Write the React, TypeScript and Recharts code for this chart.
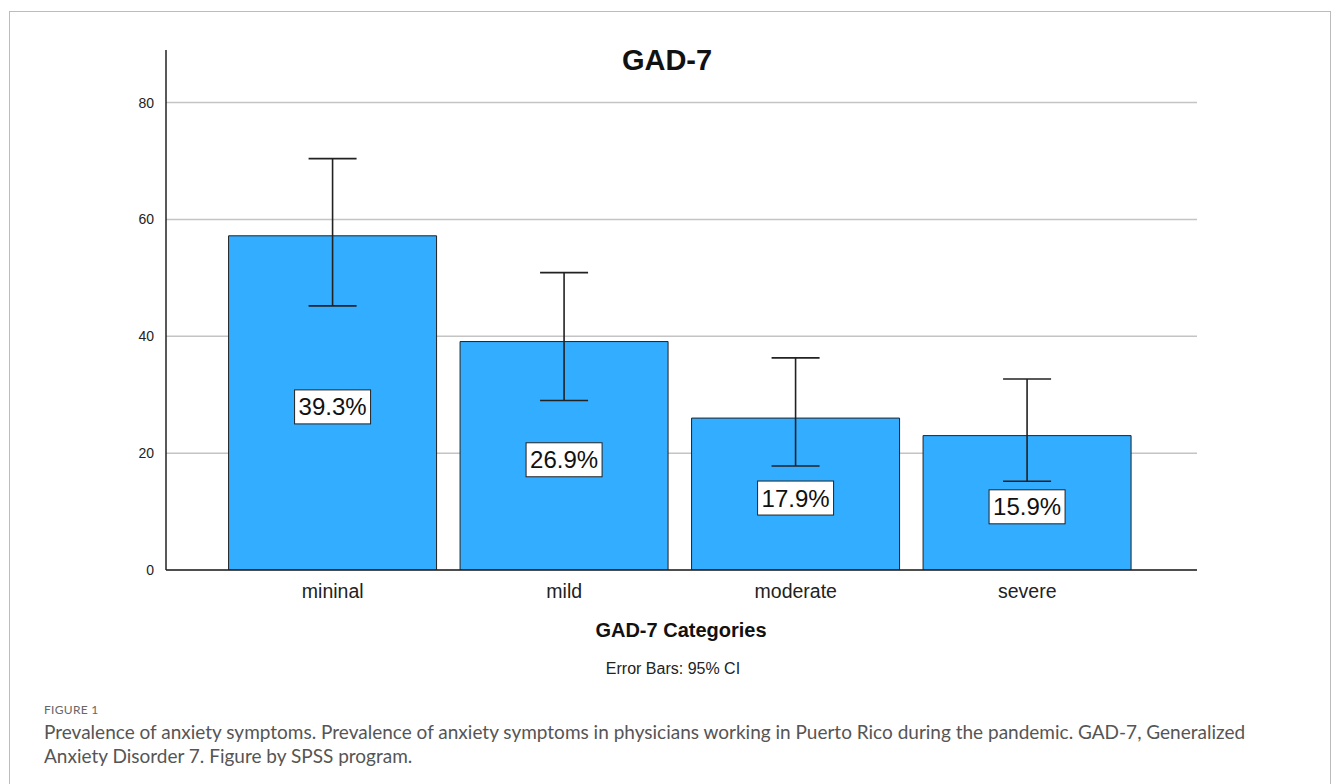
import { BarChart, Bar, XAxis, YAxis, CartesianGrid, ErrorBar, LabelList } from 'recharts';

const categories = ['mininal', 'mild', 'moderate', 'severe'];
const counts = [57.2, 39.1, 26.0, 23.0];
const ciLow = [45.2, 29.0, 17.8, 15.2];
const ciHigh = [70.4, 50.9, 36.3, 32.7];
const percentLabels = ['39.3%', '26.9%', '17.9%', '15.9%'];
const yTicks = [0, 20, 40, 60, 80];

const data = categories.map((name, i) => ({
  name,
  count: counts[i],
  ci: [counts[i] - ciLow[i], ciHigh[i] - counts[i]],
  pct: percentLabels[i],
}));

const PercentBox = (props: any) => {
  const { x, y, width, height, value } = props;
  const cx = x + width / 2;
  const cy = y + height / 2 + 4;
  const w = 76;
  const h = 34;
  return (
    <g>
      <rect x={cx - w / 2} y={cy - h / 2} width={w} height={h} fill="#fff" stroke="#222" strokeWidth={1} />
      <text x={cx} y={cy} textAnchor="middle" dominantBaseline="central" fontSize={24} fill="#111"
        fontFamily="'Liberation Sans', Arial, sans-serif">
        {value}
      </text>
    </g>
  );
};

const App = () => {
  return (
    <div style={{ position: 'absolute', left: 0, top: 0, width: 1333, height: 784, background: '#fff', overflow: 'hidden' }}>
      <div style={{ position: 'absolute', left: 9, top: 11, width: 1322, height: 800, border: '1.5px solid #bcbcbc', boxSizing: 'border-box' }} />
      <div style={{ position: 'absolute', left: 0, top: 0 }}>
        <BarChart width={1333} height={610} data={data}
          margin={{ top: 50, right: 136, left: 106, bottom: 0 }} barCategoryGap="5%">
          <CartesianGrid vertical={false} stroke="#c4c4c4" strokeWidth={1.5} syncWithTicks />
          <XAxis dataKey="name" height={40} padding={{ left: 51, right: 54 }}
            axisLine={{ stroke: '#222', strokeWidth: 1.5 }} tickLine={false} tickMargin={8}
            tick={{ fill: '#222', fontSize: 19.5, fontFamily: "'Liberation Sans', Arial, sans-serif" }} />
          <YAxis width={60} domain={[0, 89]} ticks={yTicks} allowDataOverflow
            axisLine={{ stroke: '#222', strokeWidth: 1.5 }} tickLine={false} tickMargin={6}
            tick={{ fill: '#222', fontSize: 14, fontFamily: "'Liberation Sans', Arial, sans-serif" }} />
          <Bar dataKey="count" fill="#33adff" stroke="#222" strokeWidth={1} isAnimationActive={false}>
            <ErrorBar dataKey="ci" width={24} stroke="#222" strokeWidth={1.6} direction="y" />
            <LabelList dataKey="pct" content={<PercentBox />} />
          </Bar>
        </BarChart>
      </div>
      <div style={{ position: 'absolute', left: 567, top: 44, width: 200, textAlign: 'center', fontFamily: "'Liberation Sans', Arial, sans-serif", fontWeight: 'bold', fontSize: 29, color: '#111' }}>
        GAD-7
      </div>
      <div style={{ position: 'absolute', left: 481, top: 619, width: 400, textAlign: 'center', fontFamily: "'Liberation Sans', Arial, sans-serif", fontWeight: 'bold', fontSize: 20, color: '#111' }}>
        GAD-7 Categories
      </div>
      <div style={{ position: 'absolute', left: 473, top: 660, width: 400, textAlign: 'center', fontFamily: "'Liberation Sans', Arial, sans-serif", fontSize: 16, color: '#222' }}>
        Error Bars: 95% CI
      </div>
      <div style={{ position: 'absolute', left: 44, top: 702, fontFamily: 'Lato, sans-serif', fontSize: 12, color: '#666', letterSpacing: 0.3 }}>
        FIGURE 1
      </div>
      <div style={{ position: 'absolute', left: 44, top: 720, fontFamily: 'Lato, sans-serif', fontSize: 19, lineHeight: '24px', color: '#555', whiteSpace: 'nowrap' }}>
        <div>Prevalence of anxiety symptoms. Prevalence of anxiety symptoms in physicians working in Puerto Rico during the pandemic. GAD-7, Generalized</div>
        <div>Anxiety Disorder 7. Figure by SPSS program.</div>
      </div>
    </div>
  );
};

export default App;
